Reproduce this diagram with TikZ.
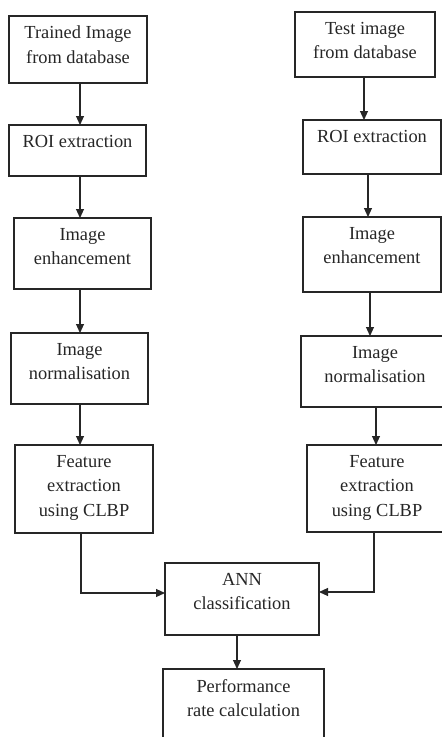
\documentclass[tikz,border=0pt]{standalone}
\usepackage{fontspec}
\setmainfont{Liberation Serif}
\usetikzlibrary{arrows.meta}
\begin{document}
\begin{tikzpicture}[x=1pt,y=-1pt,
  box/.style={draw=black!85, line width=1.2pt, outer sep=0pt, inner sep=0pt},
  lbl/.style={anchor=north, align=center, inner sep=0pt, yshift=-10pt,
    font=\fontsize{18.4}{24.5}\selectfont, text=black!85},
  arr/.style={draw=black!85, line width=1.1pt, -{Triangle[length=9pt,width=8pt]}},
  ln/.style={draw=black!85, line width=1.1pt}]
\useasboundingbox (0,0) rectangle (442,737);
\fill[white] (0,0) rectangle (442,737);
\clip (0,0) rectangle (442,737);
% left column
\node[box, minimum width=138pt, minimum height=67pt, label={[lbl]north:Trained Image\\from database}] (l1) at (78,49.5) {};
\node[box, minimum width=137pt, minimum height=51pt, label={[lbl]north:ROI extraction}] (l2) at (77.5,150.5) {};
\node[box, minimum width=137pt, minimum height=71pt, label={[lbl]north:Image\\enhancement}] (l3) at (82.5,253.5) {};
\node[box, minimum width=137pt, minimum height=71pt, label={[lbl]north:Image\\normalisation}] (l4) at (79.5,368.5) {};
\node[box, minimum width=138pt, minimum height=88pt, label={[lbl]north:Feature\\extraction\\using CLBP}] (l5) at (84,489) {};
% right column
\node[box, minimum width=140pt, minimum height=65pt, label={[lbl]north:Test image\\from database}] (r1) at (365,44.5) {};
\node[box, minimum width=138pt, minimum height=54pt, label={[lbl]north:ROI extraction}] (r2) at (372,147) {};
\node[box, minimum width=138pt, minimum height=75pt, label={[lbl]north:Image\\enhancement}] (r3) at (372,254.5) {};
\node[box, minimum width=148pt, minimum height=71pt, label={[lbl]north:Image\\normalisation}] (r4) at (375,371.5) {};
\node[box, minimum width=140pt, minimum height=87pt, label={[lbl]north:Feature\\extraction\\using CLBP}] (r5) at (377,488.5) {};
% bottom
\node[box, minimum width=154pt, minimum height=72pt, label={[lbl]north:ANN\\classification}] (ann) at (242,599) {};
\node[box, minimum width=161pt, minimum height=81pt, label={[lbl]north:Performance\\rate calculation}] (perf) at (243.5,709.5) {};
% arrow columns
\coordinate (axL) at (80,0);
\coordinate (mxL) at (81,593);
\coordinate (ax1) at (364,0);
\coordinate (ax2) at (368,0);
\coordinate (ax3) at (370,0);
\coordinate (ax4) at (376,0);
\coordinate (mxR) at (374,592);
\coordinate (axA) at (237,0);
% connectors
\draw[arr] (axL |- l1.south) -- (axL |- l2.north);
\draw[arr] (axL |- l2.south) -- (axL |- l3.north);
\draw[arr] (axL |- l3.south) -- (axL |- l4.north);
\draw[arr] (axL |- l4.south) -- (axL |- l5.north);
\draw[arr] (ax1 |- r1.south) -- (ax1 |- r2.north);
\draw[arr] (ax2 |- r2.south) -- (ax2 |- r3.north);
\draw[arr] (ax3 |- r3.south) -- (ax3 |- r4.north);
\draw[arr] (ax4 |- r4.south) -- (ax4 |- r5.north);
\draw[arr] (mxL |- l5.south) -- (mxL) -- (mxL -| ann.west);
\draw[arr] (mxR |- r5.south) -- (mxR) -- (mxR -| ann.east);
\draw[arr] (axA |- ann.south) -- (axA |- perf.north);
\end{tikzpicture}
\end{document}
